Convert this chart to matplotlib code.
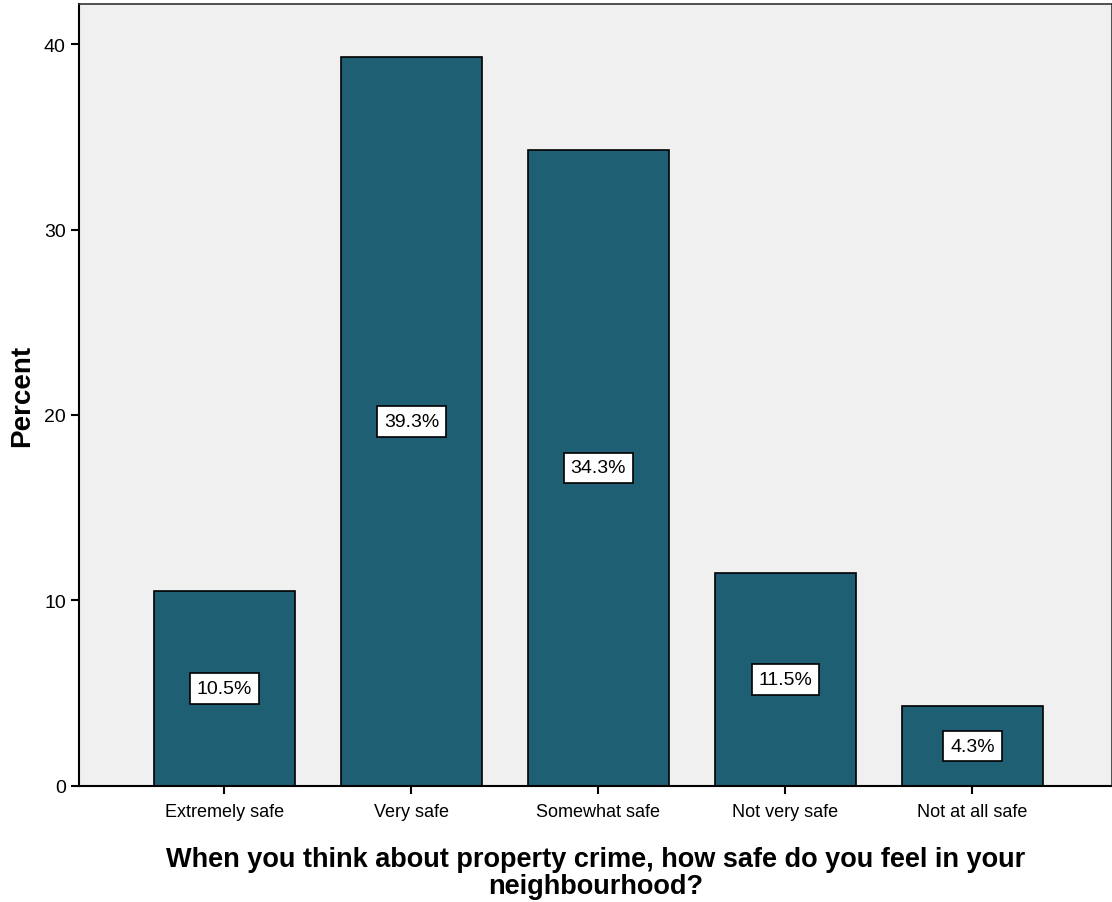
import matplotlib.pyplot as plt

plt.rcParams['font.family'] = ['Liberation Sans', 'DejaVu Sans']

# data
categories = ["Extremely safe", "Very safe", "Somewhat safe", "Not very safe", "Not at all safe"]
percent = [10.5, 39.3, 34.3, 11.5, 4.3]
labels = ["10.5%", "39.3%", "34.3%", "11.5%", "4.3%"]
yticks = [0, 10, 20, 30, 40]

fig = plt.figure(figsize=(11.12, 9.03), dpi=100)
ax = fig.add_axes([0.071, 0.1285, 0.929, 0.866])
ax.set_facecolor("#F0F0F0")

x = list(range(len(categories)))
ax.bar(x, percent, width=0.754, color="#1E5F74", edgecolor="black", linewidth=1.2, zorder=2)

# percent labels in white boxes at half bar height
for xi, v, lab in zip(x, percent, labels):
    ax.text(xi, v / 2, lab, ha="center", va="center", fontsize=14, zorder=3,
            bbox=dict(boxstyle="square,pad=0.35", facecolor="white", edgecolor="black", linewidth=1.2))

ax.set_xlim(-0.778, 4.746)
ax.set_ylim(0, 42.16)
ax.set_yticks(yticks)
ax.set_xticks(x)
ax.set_xticklabels(categories, fontsize=13)
ax.tick_params(axis="y", labelsize=14, length=6, width=1.5, direction="out")
ax.tick_params(axis="x", length=6, width=1.5, direction="out", pad=6)

for side in ["left", "bottom"]:
    ax.spines[side].set_linewidth(1.5)
for side in ["top", "right"]:
    ax.spines[side].set_color("#333333")
    ax.spines[side].set_linewidth(1.2)

ax.set_ylabel("Percent", fontsize=20, fontweight="bold", labelpad=6)
ax.set_xlabel("When you think about property crime, how safe do you feel in your\nneighbourhood?",
              fontsize=19.5, fontweight="bold", labelpad=19, linespacing=1.05)

fig.savefig("out.png", dpi=100)
